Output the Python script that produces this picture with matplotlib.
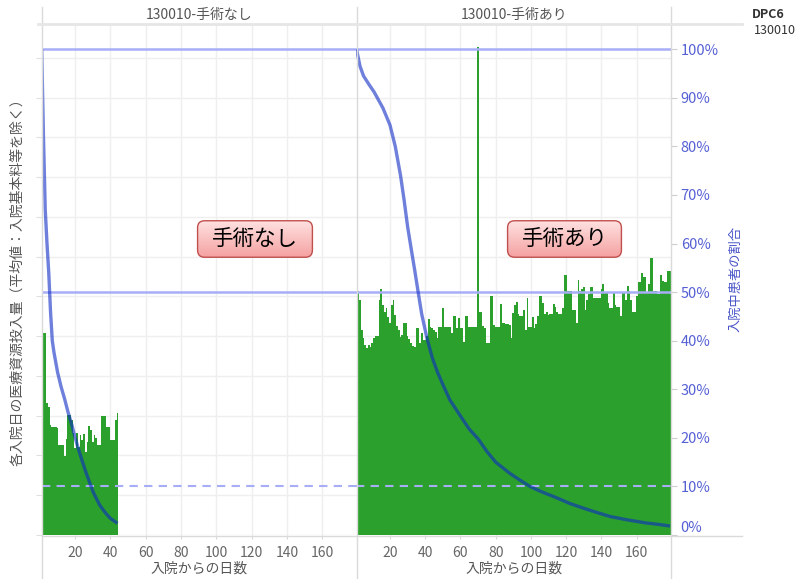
import numpy as np
import matplotlib
matplotlib.use("Agg")
import matplotlib.pyplot as plt
from matplotlib.lines import Line2D
from matplotlib.patches import FancyBboxPatch
from matplotlib.colors import LinearSegmentedColormap

plt.rcParams['font.family'] = ['Noto Sans CJK JP', 'DejaVu Sans']

W, H = 798, 579

# ── データ ──────────────────────────────────────────
panel_titles = ["130010-手術なし", "130010-手術あり"]
box_labels   = ["手術なし", "手術あり"]

# 各入院日の医療資源投入量（平均値）
days_nashi = list(range(1, 45))
cost_nashi = [
    12950, 10180, 10180, 6650, 6450, 5540, 5440, 5440, 5440, 5390,
    4530, 4530, 4530, 3980, 4840, 6050, 6050, 5790, 5140, 4380,
    5140, 4430, 5040, 4790, 5090, 4180, 4690, 5490, 5290, 4690,
    5040, 4890, 4530, 4530, 5990, 5990, 5990, 5440, 5440, 4790,
    4790, 4790, 5790, 6150,
]

days_ari = list(range(1, 180))
cost_ari = [
    14720, 12250, 11840, 10330, 9930, 9580, 9420, 9580, 9480, 9680,
    9930, 10030, 10030, 11840, 12350, 11590, 11240, 11440, 10940, 10680,
    11590, 11840, 11040, 10530, 10330, 9980, 10080, 10680, 10680, 10030,
    9880, 9680, 9530, 9480, 10430, 10430, 9680, 10180, 9830, 9830,
    10030, 10840, 10480, 10430, 10330, 10230, 9930, 10480, 10480, 11440,
    10480, 10480, 10480, 10480, 10180, 10990, 10990, 10430, 10890, 10430,
    10430, 9730, 10990, 10990, 10480, 10480, 10480, 10480, 10480, 24540,
    11240, 11240, 10530, 10430, 9680, 9680, 12000, 12000, 10580, 10480,
    10480, 10480, 11640, 10680, 10680, 10630, 10630, 10580, 9930, 11190,
    11590, 11740, 11140, 10990, 10990, 11340, 10330, 11940, 10480, 10480,
    10940, 10430, 10630, 10990, 12000, 12000, 11690, 11090, 11240, 11040,
    11140, 11140, 11640, 11490, 11240, 11090, 11090, 11440, 13100, 13100,
    12250, 12250, 12250, 11340, 11340, 10680, 12850, 12250, 12350, 12450,
    11340, 11840, 12100, 12450, 12450, 11940, 11940, 11940, 11940, 12350,
    12600, 12200, 12200, 11690, 11440, 11440, 12200, 11590, 11490, 11490,
    10990, 12200, 12200, 11840, 12500, 12250, 11840, 11240, 11240, 12000,
    12700, 12700, 13200, 13000, 13000, 12200, 12600, 13910, 13910, 12250,
    12250, 12100, 12100, 13100, 12750, 12700, 12700, 13260, 13260,
]

# 入院中患者の割合
ratio_nashi_days = [1, 2, 3, 4, 5, 6, 7, 8, 10, 12, 14, 16, 18, 20, 22, 24,
                    26, 28, 30, 32, 34, 36, 38, 40, 42, 44]
ratio_nashi = [1.00, 0.82, 0.67, 0.60, 0.54, 0.46, 0.40, 0.375, 0.335, 0.305,
               0.28, 0.252, 0.228, 0.20, 0.175, 0.152, 0.13, 0.11, 0.09,
               0.075, 0.061, 0.051, 0.042, 0.034, 0.029, 0.024]

ratio_ari_days = [1, 3, 5, 8, 11, 16, 20, 23, 26, 28, 30, 32, 34, 36, 38, 41, 44,
                  47, 50, 54, 60, 65, 70, 75, 80, 88, 95, 100, 106, 113, 122,
                  130, 136, 145, 155, 165, 172, 179]
ratio_ari = [1.00, 0.965, 0.945, 0.928, 0.912, 0.879, 0.844, 0.80, 0.74, 0.69,
             0.635, 0.59, 0.546, 0.50, 0.455, 0.405, 0.365, 0.335, 0.31, 0.278,
             0.245, 0.218, 0.198, 0.172, 0.150, 0.127, 0.110, 0.099, 0.089,
             0.079, 0.065, 0.055, 0.048, 0.038, 0.031, 0.025, 0.022, 0.0185]

pct_ticks  = [0, 0.1, 0.2, 0.3, 0.4, 0.5, 0.6, 0.7, 0.8, 0.9, 1.0]
pct_labels = ["0%", "10%", "20%", "30%", "40%", "50%", "60%", "70%", "80%", "90%", "100%"]
ref_lines  = [1.0, 0.5]
ref_dashed = 0.1
x_ticks    = [20, 40, 60, 80, 100, 120, 140, 160]

GREEN  = "#2ca02c"
LINE   = "#0d2bc5"
REF    = "#a8adf8"
BLUE_T = "#5560d4"
GRID   = "#efefef"
BORDER = "#dadada"

# ── レイアウト ────────────────────────────────────────
fig = plt.figure(figsize=(W / 100, H / 100), dpi=100)

def fx(x):
    return x / W

def fy(y):
    return 1 - y / H

top, bottom = 24, 535
x_edges = [41.7, 356.5, 671]

panels = [(days_nashi, cost_nashi, ratio_nashi_days, ratio_nashi),
          (days_ari, cost_ari, ratio_ari_days, ratio_ari)]

for i, (d, c, rd, rv) in enumerate(panels):
    x0, x1 = x_edges[i], x_edges[i + 1]
    ax = fig.add_axes([fx(x0), fy(bottom), (x1 - x0) / W, (bottom - top) / H])
    ax.bar(d, c, width=1.0, color=GREEN, linewidth=0, zorder=2)
    ax.set_xlim(1, 179.5)
    ax.set_ylim(0, 25700)
    ax.set_yticks(range(0, 25001, 2000))
    ax.set_yticklabels([])
    ax.set_xticks(x_ticks)
    ax.set_xticklabels([str(t) for t in x_ticks])
    ax.grid(True, color=GRID, linewidth=1, zorder=0)
    ax.set_axisbelow(True)
    for s in ax.spines.values():
        s.set_visible(False)
    ax.tick_params(axis='x', length=3, color="#d8d8d8", labelsize=10,
                   labelcolor="#666666", pad=5)
    ax.tick_params(axis='y', length=4 if i == 0 else 0, color="#e0e0e0")
    ax.set_xlabel("入院からの日数", fontsize=10, color="#555555", labelpad=1)

    ax2 = ax.twinx()
    ax2.set_ylim(0, 1.052)
    for s in ax2.spines.values():
        s.set_visible(False)
    for r in ref_lines:
        ax2.axhline(r, color=REF, linewidth=1.8, zorder=3)
    ax2.axhline(ref_dashed, color=REF, linewidth=1.5, linestyle=(0, (4, 3)), zorder=3)
    ax2.plot(rd, rv, color=LINE, linewidth=2.4, alpha=0.6, zorder=4,
             solid_capstyle='butt')
    ax2.set_xlim(1, 179.5)
    if i == 1:
        ax2.set_yticks(pct_ticks)
        ax2.set_yticklabels(pct_labels)
        ax2.tick_params(axis='y', length=4, color="#cccccc", labelsize=10.5,
                        labelcolor=BLUE_T, pad=3)
        ax2.get_yticklabels()[0].set_va('bottom')
        ax2.set_ylabel("入院中患者の割合", fontsize=9.5, color="#4a55c8", labelpad=8)
    else:
        ax2.set_yticks([])

    # パネルタイトル
    fig.text(fx((x0 + x1) / 2), fy(15), panel_titles[i], ha='center', va='center',
             fontsize=10, color="#555555")

fig.text(fx(17), fy(279), "各入院日の医療資源投入量（平均値：入院基本料等を除く）",
         rotation=90, ha='center', va='center', fontsize=10, color="#555555")

# 枠線
for x in x_edges:
    fig.add_artist(Line2D([fx(x)] * 2, [fy(7), fy(579)], color=BORDER, linewidth=1))
fig.add_artist(Line2D([fx(38), fx(742)], [fy(top)] * 2, color="#e6e6e6", linewidth=2))
fig.add_artist(Line2D([fx(41.7), fx(742)], [fy(bottom + 0.5)] * 2, color=BORDER, linewidth=1))

# 凡例
fig.text(fx(752), fy(15), "DPC6", ha='left', va='center', fontsize=9,
         fontweight='bold', color="#333333")
fig.text(fx(754), fy(31), "130010", ha='left', va='center', fontsize=9, color="#333333")

# 注釈ボックス
cmap = LinearSegmentedColormap.from_list("pink", ["#f5a0a0", "#ffe2e2"])

def label_box(x0, y0, x1, y1, text):
    axb = fig.add_axes([fx(x0), fy(y1), (x1 - x0) / W, (y1 - y0) / H])
    axb.set_axis_off()
    axb.set_xlim(0, 1)
    axb.set_ylim(0, 1)
    grad = np.linspace(0, 1, 64).reshape(-1, 1)
    im = axb.imshow(grad, extent=[0, 1, 0, 1], origin='lower', cmap=cmap,
                    aspect='auto', zorder=1)
    rpx = 7
    patch = FancyBboxPatch((0.005, 0.02), 0.99, 0.96,
                           boxstyle=f"round,pad=0,rounding_size={rpx / (x1 - x0)}",
                           mutation_aspect=(x1 - x0) / (y1 - y0),
                           transform=axb.transAxes, facecolor='none',
                           edgecolor="#c0504d", linewidth=1, zorder=2, clip_on=False)
    axb.add_patch(patch)
    im.set_clip_path(patch)
    axb.text(0.5, 0.5, text, ha='center', va='center', fontsize=15.5, color="black")

label_box(197, 220, 313, 258, box_labels[0])
label_box(507, 220, 622, 258, box_labels[1])

fig.savefig("out.png", dpi=100)
